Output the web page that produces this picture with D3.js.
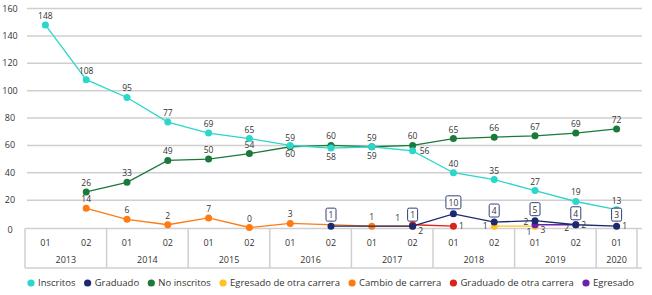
<!DOCTYPE html>
<html>
<head>
<meta charset="utf-8">
<script src="https://cdn.jsdelivr.net/npm/d3@7"></script>
<style>
  body { margin: 0; background: #fff; }
  svg text { font-family: "Open Sans", "DejaVu Sans", sans-serif; fill: #333; }
</style>
</head>
<body>
<div id="visualization"></div>
<script>
// Periods (semester within year)
const semesters = ['01','02','01','02','01','02','01','02','01','02','01','02','01','02','01'];
const years = ['2013','2014','2015','2016','2017','2018','2019','2020'];
const yearSpan = [2, 2, 2, 2, 2, 2, 2, 1];
const yTicks = [0, 20, 40, 60, 80, 100, 120, 140, 160];

// Series values (null = no data)
const inscritos = [148, 108, 95, 77, 69, 65, 60, 58, 59, 56, 40, 35, 27, 19, 13];
const noInscritos = [null, 26, 33, 49, 50, 54, 59, 60, 59, 60, 65, 66, 67, 69, 72];
const cambioCarrera = [null, 14, 6, 2, 7, 0, 3, null, 1, 1, null, null, null, null, null];
const graduado = [null, null, null, null, null, null, null, 1, null, 1, 10, 4, 5, 2, 1];
const graduadoTags = [null, null, null, null, null, null, null, 1, null, 1, 10, 4, 5, 4, 3];
const graduadoNotes = [null, null, null, null, null, null, null, null, null, null, null, null, 3, 2, 1];
const graduadoOtra = [null, null, null, null, null, null, null, null, null, 2, 1, null, null, null, null];
const egresadoOtra = [null, null, null, null, null, null, null, null, null, null, null, 1, 1, null, null];
const egresado = [null, null, null, null, null, null, null, null, null, null, null, null, 2, 2, null];

const legendNames = ['Inscritos', 'Graduado', 'No inscritos', 'Egresado de otra carrera', 'Cambio de carrera', 'Graduado de otra carrera', 'Egresado'];
const legendColors = ['#2bd6cb', '#1b2a6e', '#1a7a3a', '#ffc21f', '#ff7a12', '#d9241b', '#6b21a8'];

document.addEventListener('DOMContentLoaded', () => {
    const width = 652;
    const height = 295;

    const svg = d3.select('#visualization')
        .append('svg')
        .attr('width', width)
        .attr('height', height);

    const xScale = d3.scaleBand()
        .domain(d3.range(semesters.length))
        .range([25, 637]);
    const bw = xScale.bandwidth();
    const cx = i => xScale(i) + bw / 2;

    const yScale = d3.scaleLinear()
        .domain([0, 160])
        .range([227.5, 8.5]);

    const gridColor = '#cfcfcf';

    // Grid lines
    svg.append('g')
        .selectAll('line')
        .data(yTicks.filter(d => d > 0))
        .enter()
        .append('line')
        .attr('x1', 27).attr('x2', 642)
        .attr('y1', d => yScale(d)).attr('y2', d => yScale(d))
        .attr('stroke', gridColor)
        .attr('stroke-width', 1.5);

    // Y labels
    svg.append('g')
        .selectAll('text')
        .data(yTicks)
        .enter()
        .append('text')
        .attr('x', 10)
        .attr('y', d => yScale(d) + 3 + (d === 0 ? 2 : 0))
        .attr('text-anchor', 'middle')
        .style('font-size', '9px')
        .text(d => d);

    // Table-style x axis
    const tableTop = yScale(0) + 1;
    const tableBottom = 268;
    const table = svg.append('g');
    table.append('line')
        .attr('x1', xScale(0)).attr('x2', 642)
        .attr('y1', tableTop).attr('y2', tableTop)
        .attr('stroke', gridColor).attr('stroke-width', 1.5);
    table.append('line')
        .attr('x1', xScale(0)).attr('x2', 642)
        .attr('y1', tableBottom).attr('y2', tableBottom)
        .attr('stroke', gridColor).attr('stroke-width', 1.5);

    let start = 0;
    const bounds = [0];
    yearSpan.forEach(s => { start += s; bounds.push(start); });
    table.selectAll('line.sep')
        .data(bounds)
        .enter()
        .append('line')
        .attr('class', 'sep')
        .attr('x1', d => d < semesters.length ? xScale(d) : xScale.range()[1])
        .attr('x2', d => d < semesters.length ? xScale(d) : xScale.range()[1])
        .attr('y1', tableTop).attr('y2', tableBottom)
        .attr('stroke', gridColor).attr('stroke-width', 1.5);

    table.selectAll('text.sem')
        .data(semesters)
        .enter()
        .append('text')
        .attr('class', 'sem')
        .attr('x', (d, i) => cx(i))
        .attr('y', 246)
        .attr('text-anchor', 'middle')
        .style('font-size', '9px')
        .text(d => d);

    table.selectAll('text.year')
        .data(years)
        .enter()
        .append('text')
        .attr('class', 'year')
        .attr('x', (d, i) => (xScale(bounds[i]) + (bounds[i + 1] < semesters.length ? xScale(bounds[i + 1]) : xScale.range()[1])) / 2)
        .attr('y', 262.5)
        .attr('text-anchor', 'middle')
        .style('font-size', '9px')
        .text(d => d);

    // Series
    const series = [
        { values: egresadoOtra, color: legendColors[3], label: i => i === 11 ? [-9, 3] : [-6, 9] },
        { values: cambioCarrera, color: legendColors[4], label: i => i === 9 ? [-15, -5] : [0, -6] },
        { values: graduadoOtra, color: legendColors[5], label: i => i === 9 ? [8, 9] : [8, 3] },
        { values: egresado, color: legendColors[6], label: i => i === 12 ? [-9, 0] : [-9, 6] },
        { values: graduado, color: legendColors[1], label: null },
        { values: noInscritos, color: legendColors[2], label: () => [0, -6] },
        { values: inscritos, color: legendColors[0], label: i => (i >= 6 && i <= 8) ? [0, 12] : (i === 9 ? [12, 3] : [0, -6]) }
    ];

    const line = d3.line()
        .x(d => cx(d.i))
        .y(d => yScale(d.v));

    series.forEach(s => {
        const pts = s.values.map((v, i) => ({ v, i })).filter(d => d.v !== null);
        const g = svg.append('g');
        g.append('path')
            .datum(pts)
            .attr('d', line)
            .attr('fill', 'none')
            .attr('stroke', s.color)
            .attr('stroke-width', 1.3);
        g.selectAll('circle')
            .data(pts)
            .enter()
            .append('circle')
            .attr('cx', d => cx(d.i))
            .attr('cy', d => yScale(d.v))
            .attr('r', 3.5)
            .attr('fill', s.color);
        if (s.label) {
            g.selectAll('text')
                .data(pts)
                .enter()
                .append('text')
                .attr('x', d => cx(d.i) + s.label(d.i)[0])
                .attr('y', d => yScale(d.v) + s.label(d.i)[1])
                .attr('text-anchor', 'middle')
                .style('font-size', '8.5px')
                .text(d => d.v);
        }
    });

    // Boxed tags for Graduado
    const tagData = graduadoTags.map((t, i) => ({ t, i })).filter(d => d.t !== null);
    const tags = svg.append('g').selectAll('g')
        .data(tagData)
        .enter()
        .append('g')
        .attr('transform', d => `translate(${cx(d.i)},${yScale(graduado[d.i]) - 11})`);
    tags.append('rect')
        .attr('x', d => d.t >= 10 ? -7.5 : -5)
        .attr('y', -7)
        .attr('width', d => d.t >= 10 ? 15 : 10)
        .attr('height', 13)
        .attr('rx', 1.5)
        .attr('fill', '#fff')
        .attr('stroke', legendColors[1])
        .attr('stroke-width', 0.9);
    tags.append('text')
        .attr('y', 3)
        .attr('text-anchor', 'middle')
        .style('font-size', '8.5px')
        .text(d => d.t);

    // Plain notes next to Graduado points
    svg.append('g').selectAll('text')
        .data(graduadoNotes.map((t, i) => ({ t, i })).filter(d => d.t !== null))
        .enter()
        .append('text')
        .attr('x', d => cx(d.i) + 8)
        .attr('y', d => yScale(graduado[d.i]) + (d.i === 12 ? 12 : 3))
        .attr('text-anchor', 'middle')
        .style('font-size', '8.5px')
        .text(d => d.t);

    // Legend
    const legend = svg.append('g');
    const items = legend.selectAll('g')
        .data(legendNames)
        .enter()
        .append('g');
    items.append('circle')
        .attr('r', 3.6)
        .attr('cy', 0)
        .attr('fill', (d, i) => legendColors[i]);
    items.append('text')
        .attr('x', 7)
        .attr('y', 3.3)
        .style('font-size', '9.5px')
        .text(d => d);

    const widths = [];
    items.selectAll('text').each(function () { widths.push(this.getComputedTextLength() + 7 + 3.6); });
    const legendStart = 31 - 3.6;
    const legendEnd = 634;
    const totalW = d3.sum(widths);
    const gap = (legendEnd - legendStart - totalW) / (legendNames.length - 1);
    let lx = legendStart;
    items.attr('transform', (d, i) => {
        const t = `translate(${lx + 3.6},283)`;
        lx += widths[i] + gap;
        return t;
    });
});
</script>
</body>
</html>
